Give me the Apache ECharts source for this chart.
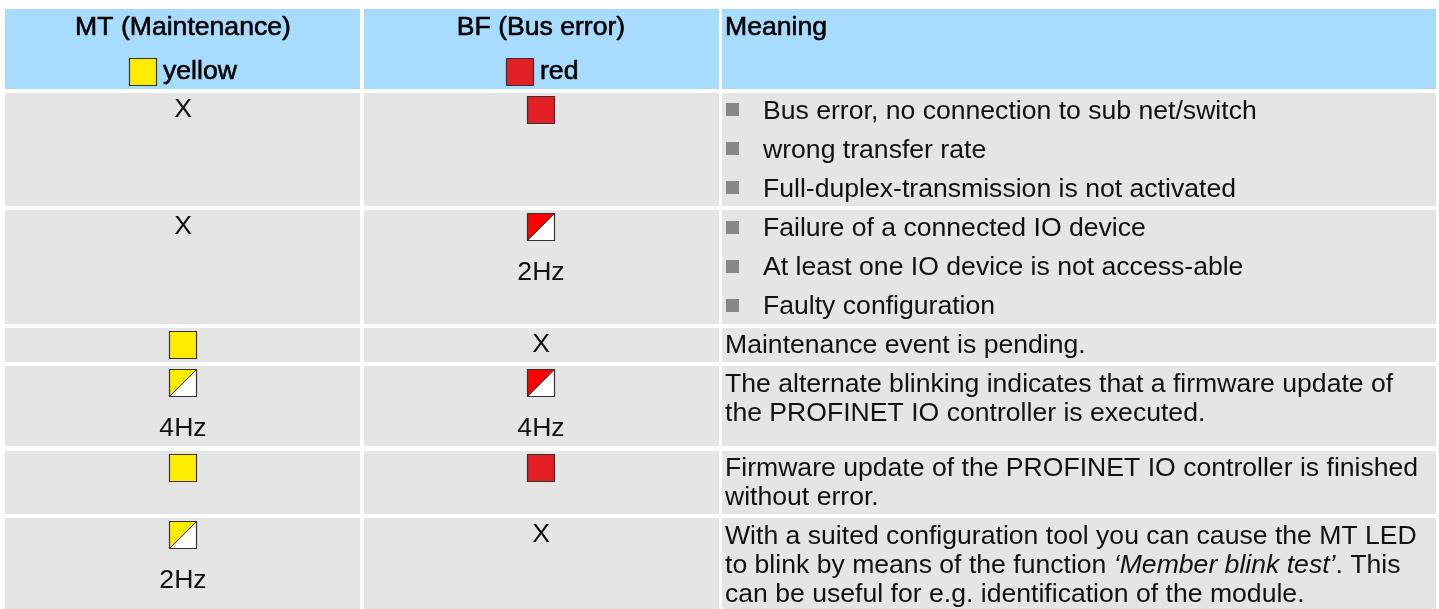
<!DOCTYPE html>
<html>
<head>
<meta charset="utf-8">
<title>MT / BF LED status</title>
<script src="https://cdn.jsdelivr.net/npm/echarts@6/dist/echarts.min.js"></script>
<style>
  html, body { margin: 0; padding: 0; background: #fff; }
  #chart { width: 1439px; height: 609px; }
</style>
</head>
<body>
<div id="chart"></div>
<script>
// table content
const columnTitles = ['MT (Maintenance)', 'BF (Bus error)', 'Meaning']
const ledNames = ['yellow', 'red']
const mtLed = ['X', 'X', 'on', 'blink', 'on', 'blink']
const mtFreq = ['', '', '', '4Hz', '', '2Hz']
const bfLed = ['on', 'blink', 'X', 'blink', 'on', 'X']
const bfFreq = ['', '2Hz', '', '4Hz', '', '']
const bulleted = [true, true, false, false, false, false]
const meanings = [
  ['Bus error, no connection to sub net/switch', 'wrong transfer rate', 'Full-duplex-transmission is not activated'],
  ['Failure of a connected IO device', 'At least one IO device is not access-able', 'Faulty configuration'],
  ['Maintenance event is pending.'],
  ['The alternate blinking indicates that a firmware update of', 'the PROFINET IO controller is executed.'],
  ['Firmware update of the PROFINET IO controller is finished', 'without error.'],
  ['With a suited configuration tool you can cause the MT LED', 'to blink by means of the function {i|‘Member blink test’}. This', 'can be useful for e.g. identification of the module.']
]

// layout, in page pixels
const colEdges = [[5, 360], [364, 719], [722, 1436]]
const colCenters = [183, 541]
const headerEdge = [9, 89]
const rowEdges = [[93, 206], [210, 324], [328, 362], [366, 446], [451, 514], [518, 609]]
const rowTextOffsets = [18.5, 19, 18, 18.5, 18, 18.5]
const ledSize = 27

const FONT = '"Liberation Sans", Arial, sans-serif'
const FONT_SIZE = 26.6
const TEXT_COLOR = '#111111'
const LED_BORDER = '#333333'
const solidFill = ['#ffed00', '#e31e24']
const blinkFill = ['#ffed00', '#ff0000']

// flatten everything into marks for the custom series
const cells = []
const leds = []
const labels = []
const bullets = []

colEdges.forEach((c, i) => {
  cells.push([c[0], headerEdge[0], c[1], headerEdge[1], '#a8dcff'])
  rowEdges.forEach(r => cells.push([c[0], r[0], c[1], r[1], '#e5e5e5']))
})

labels.push([colCenters[0], 28, columnTitles[0], 'center', 'head'])
labels.push([colCenters[1], 28, columnTitles[1], 'center', 'head'])
labels.push([colEdges[2][0] + 3, 28, columnTitles[2], 'left', 'head'])
leds.push([129, 58, 'on', 0])
leds.push([506, 58, 'on', 1])
labels.push([163, 72, ledNames[0], 'left', 'head'])
labels.push([540, 72, ledNames[1], 'left', 'head'])

function addLed(states, freqs, col, i) {
  const top = rowEdges[i][0]
  if (states[i] === 'X') {
    labels.push([colCenters[col], top + 17, 'X', 'center', 'body'])
  } else {
    leds.push([colCenters[col] - 14, top + 3, states[i], col])
  }
  if (freqs[i]) labels.push([colCenters[col], top + 63, freqs[i], 'center', 'body'])
}

meanings.forEach((lines, i) => {
  addLed(mtLed, mtFreq, 0, i)
  addLed(bfLed, bfFreq, 1, i)
  const top = rowEdges[i][0]
  const pitch = bulleted[i] ? 39 : 29
  lines.forEach((line, j) => {
    const y = top + rowTextOffsets[i] + j * pitch
    if (bulleted[i]) {
      bullets.push([726, Math.floor(y - 8)])
      labels.push([763, y, line, 'left', 'body'])
    } else {
      labels.push([colEdges[2][0] + 3, y, line, 'left', 'body'])
    }
  })
})

function renderCell(params, api) {
  const d = cells[params.dataIndex]
  const a = api.coord([d[0], d[1]])
  const b = api.coord([d[2], d[3]])
  return { type: 'rect', shape: { x: a[0], y: a[1], width: b[0] - a[0], height: b[1] - a[1] }, style: { fill: d[4] } }
}

function renderBullet(params, api) {
  const d = bullets[params.dataIndex]
  const a = api.coord([d[0], d[1]])
  return { type: 'rect', shape: { x: a[0], y: a[1], width: 13, height: 13 }, style: { fill: '#888888' } }
}

function renderLed(params, api) {
  const d = leds[params.dataIndex]
  const a = api.coord([d[0], d[1]])
  const x = a[0] + 0.5
  const y = a[1] + 0.5
  if (d[2] === 'on') {
    return {
      type: 'rect',
      shape: { x, y, width: ledSize, height: ledSize },
      style: { fill: solidFill[d[3]], stroke: LED_BORDER, lineWidth: 1.2 }
    }
  }
  return {
    type: 'group',
    children: [
      { type: 'rect', shape: { x, y, width: ledSize, height: ledSize }, style: { fill: '#ffffff' } },
      {
        type: 'polygon',
        shape: { points: [[x, y], [x + ledSize, y], [x, y + ledSize]] },
        style: { fill: blinkFill[d[3]] }
      },
      {
        type: 'line',
        shape: { x1: x, y1: y + ledSize, x2: x + ledSize, y2: y },
        style: { stroke: LED_BORDER, lineWidth: 1 }
      },
      {
        type: 'rect',
        shape: { x, y, width: ledSize, height: ledSize },
        style: { fill: 'none', stroke: LED_BORDER, lineWidth: 1.2 }
      }
    ]
  }
}

function renderLabel(params, api) {
  const d = labels[params.dataIndex]
  const a = api.coord([d[0], d[1]])
  const head = d[4] === 'head'
  return {
    type: 'text',
    style: {
      x: a[0],
      y: a[1],
      text: d[2],
      align: d[3],
      verticalAlign: 'middle',
      fill: head ? '#000000' : TEXT_COLOR,
      font: FONT_SIZE + 'px ' + FONT,
      stroke: head ? '#000000' : null,
      lineWidth: head ? 0.6 : 0,
      rich: {
        i: { font: 'italic ' + FONT_SIZE + 'px ' + FONT, fill: TEXT_COLOR }
      }
    }
  }
}

function customSeries(list, renderItem, z) {
  return {
    type: 'custom',
    coordinateSystem: 'cartesian2d',
    data: list.map(d => [d[0], d[1]]),
    renderItem,
    clip: false,
    silent: true,
    animation: false,
    z
  }
}

const chart = echarts.init(document.getElementById('chart'), null, { renderer: 'canvas' })
chart.setOption({
  animation: false,
  backgroundColor: '#ffffff',
  grid: { left: 0, right: 0, top: 0, bottom: 0 },
  xAxis: { type: 'value', min: 0, max: 1439, show: false },
  yAxis: { type: 'value', min: 0, max: 609, inverse: true, show: false },
  series: [
    customSeries(cells, renderCell, 1),
    customSeries(bullets, renderBullet, 2),
    customSeries(leds, renderLed, 3),
    customSeries(labels, renderLabel, 4)
  ]
})
</script>
</body>
</html>
